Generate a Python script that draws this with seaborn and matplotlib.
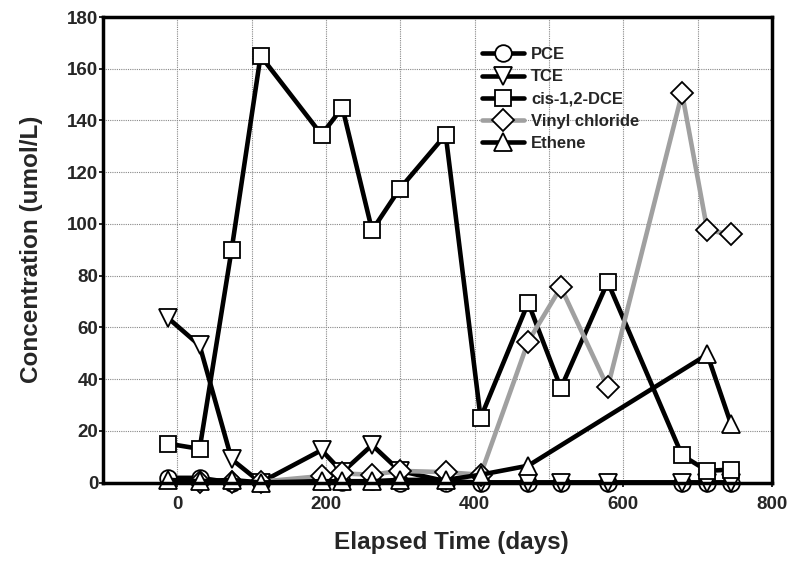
import matplotlib
matplotlib.use("Agg")
import matplotlib.pyplot as plt
import seaborn as sns
import pandas as pd
from matplotlib.ticker import MultipleLocator

sns.set_style("white")
plt.rcParams['font.family'] = ['Liberation Sans', 'DejaVu Sans']
plt.rcParams['font.weight'] = 'bold'

days = [-12, 30, 73, 112, 194, 222, 262, 299, 361, 408, 472, 516, 579, 679, 713, 745]

pce = [1.8, 1.8, 0.0, 0.0, 0.5, 0.2, 0.5, 0.0, 0.0, 0.0, 0.0, 0.0, 0.0, 0.0, 0.0, 0.0]
tce = [63.5, 53.0, 9.0, 0.0, 12.5, 4.0, 14.5, 4.5, 0.5, 0.0, 0.0, 0.0, 0.0, 0.0, 0.0, 0.0]
dce = [15.0, 13.0, 90.0, 165.0, 134.5, 145.0, 97.5, 113.5, 134.5, 25.0, 69.5, 36.5, 77.5, 10.5, 4.5, 5.0]
vc_days = [30, 73, 112, 194, 222, 262, 299, 361, 408, 472, 516, 579, 679, 713, 745]
vc = [0.3, 0.3, 0.3, 2.5, 3.5, 3.0, 4.5, 4.0, 3.0, 54.5, 75.5, 36.8, 150.5, 97.5, 96.0]
eth_days = [-12, 30, 73, 112, 194, 222, 262, 299, 361, 408, 472, 713, 745]
eth = [1.0, 0.5, 1.0, 0.0, 0.5, 0.5, 0.5, 1.0, 1.0, 3.0, 6.5, 49.5, 22.5]

series = [
    ("PCE", days, pce, "o", "black"),
    ("TCE", days, tce, "v", "black"),
    ("cis-1,2-DCE", days, dce, "s", "black"),
    ("Vinyl chloride", vc_days, vc, "D", "#a0a0a0"),
    ("Ethene", eth_days, eth, "^", "black"),
]
sizes = {"o": 12, "s": 12, "D": 11, "v": 13, "^": 13}

fig = plt.figure(figsize=(7.9, 5.62), dpi=100)
ax = fig.add_axes([103 / 790, 1 - 482.5 / 562, 669 / 790, 465.5 / 562])

for name, xs, ys, mk, col in series:
    df = pd.DataFrame({"x": xs, "y": ys})
    sns.lineplot(data=df, x="x", y="y", ax=ax, color=col, linewidth=3.3,
                 marker=mk, markersize=sizes[mk], markerfacecolor="white",
                 markeredgecolor="black", markeredgewidth=1.3,
                 label=name, sort=False, estimator=None, clip_on=False)

ax.set_xlim(-100, 800)
ax.set_ylim(0, 180)
ax.xaxis.set_major_locator(MultipleLocator(200))
ax.xaxis.set_minor_locator(MultipleLocator(100))
ax.yaxis.set_major_locator(MultipleLocator(20))
ax.grid(True, which="both", axis="x", color="#888888", linestyle=(0, (1, 1)), linewidth=0.8)
ax.grid(True, which="major", axis="y", color="#888888", linestyle=(0, (1, 1)), linewidth=0.8)
ax.set_axisbelow(True)

for s in ax.spines.values():
    s.set_visible(True)
    s.set_color("black")
    s.set_linewidth(2.5)

ax.tick_params(axis="both", which="major", labelsize=13.5, length=3, width=1.2,
               direction="out", color="black", bottom=True, left=True, pad=0.5)
ax.tick_params(axis="x", which="major", pad=7)
ax.tick_params(axis="x", which="minor", length=0)
for lab in ax.get_xticklabels() + ax.get_yticklabels():
    lab.set_fontweight("bold")

ax.set_xlabel("Elapsed Time (days)", fontsize=17.5, fontweight="bold")
ax.set_ylabel("Concentration (umol/L)", fontsize=17.5, fontweight="bold")
ax.xaxis.set_label_coords(0.52, -0.105)
ax.yaxis.set_label_coords(-0.09, 0.5)

leg = ax.legend(loc="upper left", bbox_to_anchor=(0.5665, 0.935), frameon=False,
                handlelength=2.5, labelspacing=0.43, handletextpad=0.45,
                borderpad=0, borderaxespad=0,
                prop={"weight": "bold", "size": 12})

fig.savefig("out.png", dpi=100)
